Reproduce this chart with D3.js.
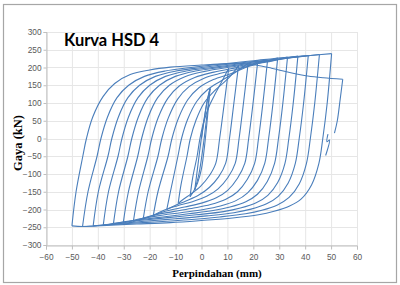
<!DOCTYPE html>
<html>
<head>
<meta charset="utf-8">
<script src="https://cdn.jsdelivr.net/npm/d3@7"></script>
<style>
body { margin: 0; background: #fff; }
svg { display: block; }
</style>
</head>
<body>
<script>
// tick labels
var xTicks = [-60, -50, -40, -30, -20, -10, 0, 10, 20, 30, 40, 50, 60];
var yTicks = [-300, -250, -200, -150, -100, -50, 0, 50, 100, 150, 200, 250, 300];

// first loading and the small loop (mm, kN)
var initialLoad = [[0,0],[1.2,60],[2.3,110],[3.3,141]];
var smallLoopDown = [[3.3,141],[2,60],[0.5,-30],[-1,-100],[-2.6,-145]];
var smallLoopUp = [[-2.6,-145],[-1.3,-70],[0.3,20],[1.8,90],[3.3,141]];

// unloading branches, positive peak -> negative peak, cycle 1..12
var fallBranches = [
	[[3.3,141],[2.3,60],[1.2,-20],[0,-85],[-1.5,-125],[-3,-148],[-4.4,-164]],
	[[10.5,198],[8.8,100],[7,0],[5.5,-70],[3,-105],[-0.3,-134],[-4,-156],[-7,-171],[-9,-183]],
	[[14.3,206],[12.5,100],[10.8,0],[9.3,-70],[6.6,-108],[3,-138],[-1.2,-160],[-6,-176],[-10,-188],[-13.4,-200]],
	[[18,212],[16.2,100],[14.5,0],[13,-70],[10.2,-110],[6.4,-142],[2,-163],[-3.5,-178],[-9.5,-190],[-14.5,-202],[-18.6,-217]],
	[[21.7,217],[19.9,100],[18.2,0],[16.7,-70],[13.9,-112],[10.1,-146],[5.7,-167],[0,-182],[-6.5,-193],[-14,-205],[-22.5,-227]],
	[[25.5,221],[23.7,100],[22,0],[20.5,-70],[17.7,-115],[13.9,-150],[9.4,-171],[3.5,-186],[-3,-196],[-11,-206],[-19,-217],[-26.3,-234]],
	[[29.4,227],[27.6,100],[25.9,0],[24.4,-70],[21.6,-118],[17.8,-153],[13.3,-175],[7.3,-190],[0.8,-200],[-8,-209],[-17,-218],[-25,-228],[-30.2,-238]],
	[[33.2,229.5],[31.4,100],[29.7,0],[28.2,-70],[25.4,-121],[21.6,-157],[17.1,-178],[11,-193],[4.5,-203],[-5,-212],[-15,-221],[-24,-229],[-30,-235],[-34,-241]],
	[[37.2,232],[35.4,100],[33.7,0],[32.2,-70],[29.4,-124],[25.6,-160],[21.1,-181],[15,-196],[8.5,-206],[-2,-215],[-13,-223],[-24,-231],[-31,-236],[-37.9,-244]],
	[[41.2,234],[39.4,100],[37.7,0],[36.2,-70],[33.4,-126],[29.6,-163],[25.1,-184],[19.1,-199],[12.5,-209],[2,-218],[-10,-226],[-22,-233],[-31,-239],[-37,-243],[-41.8,-246]],
	[[45.5,236.5],[43.7,100],[42,0],[40.5,-70],[37.7,-128],[33.8,-166],[29.3,-187],[23.3,-202],[17,-212],[7,-221],[-5,-229],[-18,-235],[-30,-240],[-38,-244],[-42,-246.5],[-45.9,-248]],
	[[50.2,239],[48.5,100],[46.8,0],[45.3,-70],[42.5,-130],[38.5,-170],[34,-190],[28,-205],[22,-215],[12,-224],[0,-231],[-12,-237],[-25,-241],[-35,-244],[-42,-247],[-46,-248],[-50,-246]]
];

// reloading branches, negative peak -> next positive peak
var riseBranches = [
	[[-4.4,-164],[-3.4,-110],[-1.7,-50],[-0.6,0],[1,50],[3.2,95],[5.6,130],[8,163],[10.5,198]],
	[[-9,-183],[-7.9,-130],[-5.6,-50],[-4.3,0],[-2.1,52],[1,100],[4.8,133],[9,160],[12,183],[14.3,206]],
	[[-13.4,-200],[-12,-150],[-9.1,-50],[-7.7,0],[-5.3,55],[-1.8,105],[2.4,138],[7.5,162],[13,186],[18,212]],
	[[-18.6,-217],[-16.8,-150],[-12.9,-50],[-11.4,0],[-8.9,57],[-5.3,109],[-1,143],[4.6,166],[11,182],[17,200],[21.7,217]],
	[[-22.5,-227],[-20.6,-150],[-16.8,-50],[-15.3,0],[-12.8,58],[-9.2,111],[-4.8,146],[1,170],[8.2,185],[15,198],[20.5,208],[25.5,221]],
	[[-26.3,-234],[-24.3,-150],[-20.7,-50],[-19.2,0],[-16.7,59],[-13,113],[-8.6,148],[-2.6,172],[4.8,187],[13,199],[21,210],[29.4,227]],
	[[-30.2,-238],[-28.2,-150],[-24.6,-50],[-23.1,0],[-20.6,60],[-16.9,115],[-12.4,150],[-6.4,174],[1.2,189],[10,200],[20,210],[27,218],[33.2,229.5]],
	[[-34,-241],[-32,-150],[-28.4,-50],[-26.9,0],[-24.4,60],[-20.7,115],[-16.2,150],[-10.1,175],[-2.3,190],[7,200],[17,210],[27,219],[37.2,232]],
	[[-37.9,-244],[-35.9,-150],[-32.2,-50],[-30.7,0],[-28.2,60],[-24.5,115],[-20,150],[-13.9,175],[-5.9,190],[4,200],[14,210],[24,218],[33,226],[41.2,234]],
	[[-41.8,-246],[-39.8,-150],[-36.1,-50],[-34.6,0],[-32.1,60],[-28.4,115],[-23.9,150],[-17.8,175],[-9.8,190],[0,200],[11,210],[22,218],[32,226],[40,232],[45.5,236.5]],
	[[-45.9,-248],[-43.8,-150],[-40.3,-50],[-38.8,0],[-36.3,60],[-32.6,115],[-28.1,150],[-22,175],[-14,190],[-4,200],[8,210],[20,219],[32,228],[42,234],[50.2,239]]
];

// last loading (strength drop), unloading and end of record
var finalBranch = [[-50,-246],[-48.4,-150],[-45.8,-50],[-44.4,0],[-42,60],[-38,118],[-33.5,155],[-27.5,180],[-20,193],[-12,201],[0,207],[10,211],[16,211],[21,207],[27,198],[34,186],[41,176],[47,171],[54.5,167]];
var finalUnload = [[54.5,167],[53.5,110],[52.4,50],[51.3,15]];
var endTrace = [[48.8,12],[48.4,-9],[49.4,-4],[47.9,-48]];

var W = 400, H = 285;
var svg = d3.select("body").append("svg").attr("width", W).attr("height", H);

svg.append("rect")
	.attr("x", 3.5).attr("y", 4.5)
	.attr("width", 393).attr("height", 278)
	.attr("fill", "#fff")
	.attr("stroke", "#a6a6a6")
	.attr("stroke-width", 1.2);

var x = d3.scaleLinear().domain([-60, 60]).range([46, 357]);
var y = d3.scaleLinear().domain([-300, 300]).range([245, 32]);

// grid
svg.append("g").selectAll("line").data(xTicks).enter().append("line")
	.attr("x1", function(d){ return x(d) + 0.5; }).attr("x2", function(d){ return x(d) + 0.5; })
	.attr("y1", y(300)).attr("y2", y(-300))
	.attr("stroke", "#e6e6e6").attr("stroke-width", 1);
svg.append("g").selectAll("line").data(yTicks).enter().append("line")
	.attr("x1", x(-60)).attr("x2", x(60))
	.attr("y1", function(d){ return Math.round(y(d)) + 0.5; }).attr("y2", function(d){ return Math.round(y(d)) + 0.5; })
	.attr("stroke", "#e6e6e6").attr("stroke-width", 1);

// axes
var xAxis = svg.append("g")
	.attr("transform", "translate(0," + (Math.round(y(-300)) + 0.5) + ")")
	.call(d3.axisBottom(x).tickValues(xTicks).tickSize(4).tickPadding(5));
var yAxis = svg.append("g")
	.attr("transform", "translate(" + (Math.round(x(-60)) + 0.5) + ",0)")
	.call(d3.axisLeft(y).tickValues(yTicks).tickSize(3).tickPadding(2));

[xAxis, yAxis].forEach(function(a){
	a.select(".domain").attr("stroke", "#bfbfbf");
	a.selectAll(".tick line").attr("stroke", "#bfbfbf");
	a.selectAll(".tick text")
		.attr("fill", "#595959")
		.style("font-family", "'Liberation Sans', Arial, sans-serif")
		.style("font-size", "8.3px");
});

// hysteresis trace
var line = d3.line()
	.x(function(d){ return x(d[0]); })
	.y(function(d){ return y(d[1]); })
	.curve(d3.curveCatmullRom.alpha(0.5));

var branches = [initialLoad, smallLoopDown, smallLoopUp];
fallBranches.forEach(function(b, i){
	branches.push(b);
	if (i < riseBranches.length) branches.push(riseBranches[i]);
});
branches.push(finalBranch, finalUnload, endTrace);

svg.append("g").selectAll("path").data(branches).enter().append("path")
	.attr("d", line)
	.attr("fill", "none")
	.attr("stroke", "#4a7ebb")
	.attr("stroke-width", 1.1)
	.attr("stroke-linejoin", "round");

// titles
svg.append("text")
	.attr("x", 64).attr("y", 46)
	.style("font-family", "Lato, 'Open Sans', sans-serif")
	.style("font-weight", "bold")
	.style("font-size", "16.5px")
	.attr("fill", "#000")
	.text("Kurva HSD 4");

svg.append("text")
	.attr("transform", "translate(21.5,143) rotate(-90)")
	.attr("text-anchor", "middle")
	.style("font-family", "'Liberation Serif', 'Times New Roman', serif")
	.style("font-weight", "bold")
	.style("font-size", "12.5px")
	.attr("fill", "#000")
	.text("Gaya (kN)");

svg.append("text")
	.attr("x", 217).attr("y", 277)
	.attr("text-anchor", "middle")
	.style("font-family", "'Liberation Serif', 'Times New Roman', serif")
	.style("font-weight", "bold")
	.style("font-size", "11px")
	.attr("fill", "#000")
	.text("Perpindahan (mm)");
</script>
</body>
</html>
